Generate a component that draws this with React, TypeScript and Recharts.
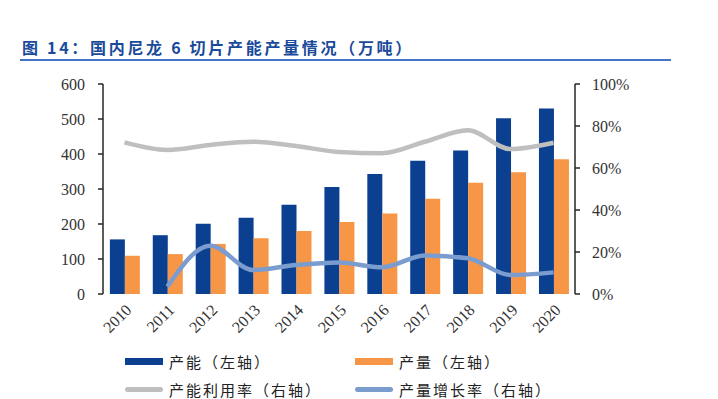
import { Bar, ComposedChart, Line, XAxis, YAxis } from "recharts";

// 年份 / 产能 / 产量（万吨）, 利用率 / 增长率（%）
const years = ["2010", "2011", "2012", "2013", "2014", "2015", "2016", "2017", "2018", "2019", "2020"];
const capacity = [156, 168, 201, 218, 255, 306, 343, 381, 410, 502, 530];
const output = [109, 114, 143, 159, 180, 206, 230, 272, 318, 348, 385];
const utilization = [72.2, 68.6, 71, 72.5, 70.5, 67.6, 67, 72.5, 78, 69, 72];
const growth = [null, 3.5, 23, 11.4, 13.8, 15, 12.7, 18.3, 17, 9, 10.3];
const leftTicks = [0, 100, 200, 300, 400, 500, 600];
const rightTicks = [0, 20, 40, 60, 80, 100];
const edgeTicks = [0, 1, 2, 3, 4, 5, 6, 7, 8, 9, 10, 11];

const data = years.map((y, i) => ({
  year: y,
  capacity: capacity[i],
  output: output[i],
  utilization: utilization[i],
  growth: growth[i],
}));

const NAVY = "#0b3f8f";
const ORANGE = "#f79646";
const GREY = "#bfbfbf";
const LBLUE = "#7a9ccf";
const AXIS = "#262626";
const tickFont = { fontSize: 16, fontFamily: "Liberation Serif", fill: "#333" };

function LegendItem({ x, y, color, line, text }: { x: number; y: number; color: string; line?: boolean; text: string }) {
  return (
    <div style={{ position: "absolute", left: x, top: y - 11, height: 22, display: "flex", alignItems: "center" }}>
      <div
        style={{
          width: 38,
          height: line ? 5 : 7,
          borderRadius: line ? 3 : 0,
          background: color,
          marginRight: 6,
        }}
      />
      <span style={{ fontFamily: "Noto Sans CJK SC", fontSize: 15, color: "#222", letterSpacing: 2 }}>{text}</span>
    </div>
  );
}

export default function App() {
  return (
    <div style={{ position: "absolute", left: 0, top: 0, width: 718, height: 399, background: "#fff" }}>
      <div
        style={{
          position: "absolute",
          left: 22,
          top: 35,
          fontFamily: "Noto Sans CJK SC",
          fontWeight: 700,
          fontSize: 16,
          color: "#1a4a9a",
          letterSpacing: 2.7,
          whiteSpace: "nowrap",
        }}
      >
        图 14：国内尼龙 6 切片产能产量情况（万吨）
      </div>
      <div style={{ position: "absolute", left: 20, top: 59, width: 651, height: 1.5, background: "#4472c4" }} />
      <div style={{ position: "absolute", left: 20, top: 58.5, width: 20, height: 2.5, background: "#4472c4" }} />
      <div style={{ position: "absolute", left: 648, top: 58.5, width: 23, height: 2.5, background: "#4472c4" }} />

      <div style={{ position: "absolute", left: 0, top: 0 }}>
        <ComposedChart
          width={718}
          height={399}
          data={data}
          margin={{ top: 84, right: 83, bottom: 55, left: 43 }}
          barCategoryGap="16%"
          barGap={0}
        >
          <XAxis
            xAxisId="edge"
            type="number"
            domain={[0, 11]}
            ticks={edgeTicks}
            height={0}
            stroke={AXIS}
            strokeWidth={1.5}
            tickSize={5}
            tickFormatter={() => ""}
          />
          <XAxis
            dataKey="year"
            height={50}
            axisLine={false}
            tickLine={false}
            interval={0}
            angle={-45}
            textAnchor="end"
            tick={tickFont}
            tickMargin={3}
          />
          <YAxis
            yAxisId="left"
            domain={[0, 600]}
            ticks={leftTicks}
            width={60}
            stroke={AXIS}
            strokeWidth={1.5}
            tickSize={5}
            tickMargin={13}
            tick={tickFont}
          />
          <YAxis
            yAxisId="right"
            orientation="right"
            domain={[0, 100]}
            ticks={rightTicks}
            width={60}
            stroke={AXIS}
            strokeWidth={1.5}
            tickSize={5}
            tickMargin={12}
            tick={{ ...tickFont, textAnchor: "start" }}
            tickFormatter={(v) => `${v}%`}
          />
          <Bar yAxisId="left" dataKey="capacity" fill={NAVY} isAnimationActive={false} />
          <Bar yAxisId="left" dataKey="output" fill={ORANGE} isAnimationActive={false} />
          <Line
            yAxisId="right"
            type="monotone"
            dataKey="utilization"
            stroke={GREY}
            strokeWidth={4.5}
            dot={false}
            isAnimationActive={false}
          />
          <Line
            yAxisId="right"
            type="monotone"
            dataKey="growth"
            stroke={LBLUE}
            strokeWidth={4.5}
            dot={false}
            isAnimationActive={false}
          />
        </ComposedChart>
      </div>

      <LegendItem x={125} y={361} color={NAVY} text="产能（左轴）" />
      <LegendItem x={355} y={361} color={ORANGE} text="产量（左轴）" />
      <LegendItem x={125} y={389} color={GREY} line text="产能利用率（右轴）" />
      <LegendItem x={355} y={389} color={LBLUE} line text="产量增长率（右轴）" />
    </div>
  );
}
